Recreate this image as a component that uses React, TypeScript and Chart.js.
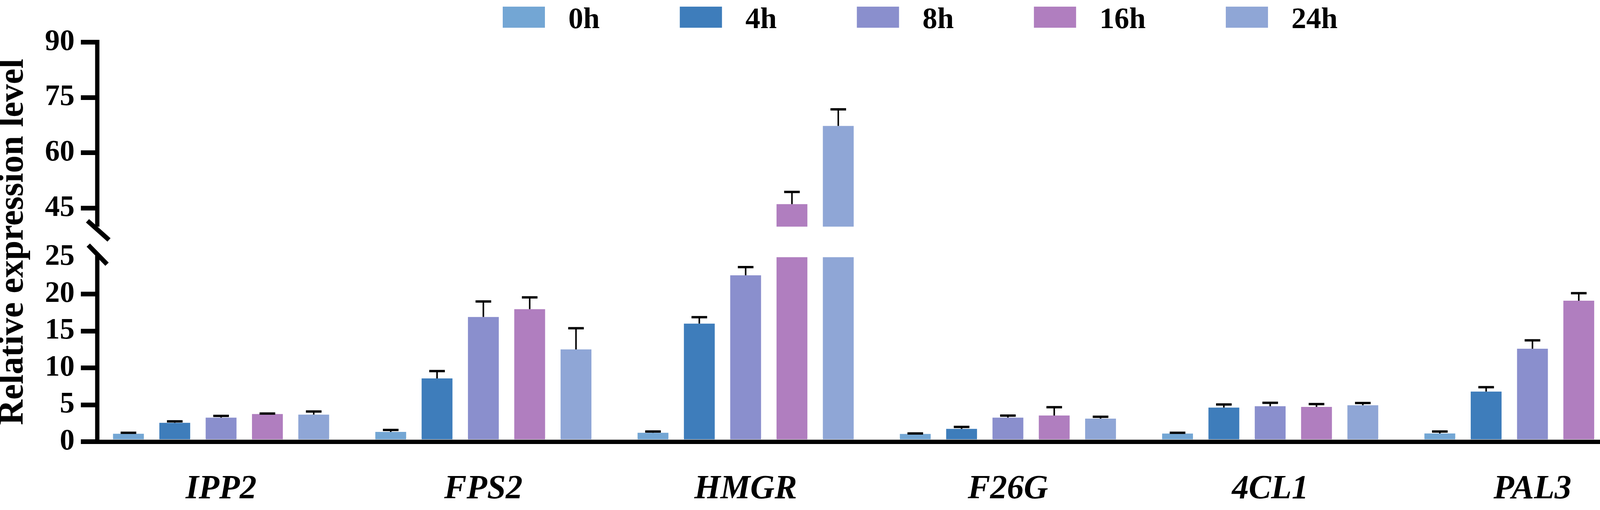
import React, { useEffect, useRef } from "react";
import { Chart, registerables } from "chart.js";

Chart.register(...registerables);

// ---------- data ----------
const GENES = ["IPP2", "FPS2", "HMGR", "F26G", "4CL1", "PAL3", "CHS"];
const SERIES = ["0h", "4h", "8h", "16h", "24h"];
const COLORS = ["#73a6d4", "#3e7dbb", "#8a8fcd", "#b07ebf", "#8fa6d6"];

const MEAN_0H = [1.07, 1.32, 1.2, 1.04, 1.1, 1.11, 1.02];
const MEAN_4H = [2.56, 8.57, 16.0, 1.73, 4.62, 6.79, 3.08];
const MEAN_8H = [3.26, 16.9, 22.55, 3.26, 4.8, 12.6, 2.7];
const MEAN_16H = [3.74, 17.96, 46.1, 3.54, 4.71, 19.1, 3.19];
const MEAN_24H = [3.67, 12.5, 67.3, 3.12, 4.94, 11.43, 3.07];

const SD_0H = [0.13, 0.27, 0.18, 0.07, 0.1, 0.27, 0.13];
const SD_4H = [0.19, 1.0, 0.87, 0.27, 0.42, 0.59, 0.17];
const SD_8H = [0.23, 2.1, 1.1, 0.27, 0.47, 1.13, 0.35];
const SD_16H = [0.07, 1.6, 3.3, 1.13, 0.39, 1.02, 0.21];
const SD_24H = [0.42, 2.87, 4.5, 0.25, 0.3, 1.5, 0.28];

const Y_TICKS = [0, 5, 10, 15, 20, 25, 45, 60, 75, 90];

// ---------- broken axis mapping ----------
const LOWER_TOP = 25;
const UPPER_BOTTOM = 40;
const UPPER_TOP = 90;
const GAP = 4.14;
const UPPER_RATIO = 0.5;
const T = (v: number) =>
  v <= LOWER_TOP ? v : LOWER_TOP + GAP + (Math.max(v, UPPER_BOTTOM) - UPPER_BOTTOM) * UPPER_RATIO;

const MEANS = [MEAN_0H, MEAN_4H, MEAN_8H, MEAN_16H, MEAN_24H];
const SDS = [SD_0H, SD_4H, SD_8H, SD_16H, SD_24H];

const FONT = "'Liberation Serif', 'Times New Roman', serif";

const W = 4921;
const H = 1306;

const breakPlugin = {
  id: "breakAndErrors",
  afterDatasetsDraw(chart: any) {
    const { ctx, chartArea, scales } = chart;
    const y = scales.y;
    const yLow = y.getPixelForValue(LOWER_TOP);
    const yHigh = y.getPixelForValue(T(UPPER_BOTTOM));
    ctx.save();
    ctx.fillStyle = "#ffffff";
    ctx.fillRect(chartArea.left + 6, yHigh, chartArea.right - chartArea.left, yLow - yHigh);
    // error bars
    ctx.strokeStyle = "#000";
    ctx.lineCap = "butt";
    SERIES.forEach((_, k) => {
      const meta = chart.getDatasetMeta(k);
      meta.data.forEach((el: any, i: number) => {
        const top = y.getPixelForValue(T(MEANS[k][i] + SDS[k][i]));
        const base = el.y;
        ctx.lineWidth = 4;
        ctx.beginPath();
        ctx.moveTo(el.x, base);
        ctx.lineTo(el.x, top);
        ctx.stroke();
        ctx.lineWidth = 6;
        ctx.beginPath();
        ctx.moveTo(el.x - 20, top);
        ctx.lineTo(el.x + 20, top);
        ctx.stroke();
      });
    });
    ctx.restore();
  },
  afterDraw(chart: any) {
    const { ctx, chartArea, scales } = chart;
    const y = scales.y;
    const x0 = chartArea.left;
    const y0 = y.getPixelForValue(0);
    const yLow = y.getPixelForValue(LOWER_TOP);
    const yHigh = y.getPixelForValue(T(UPPER_BOTTOM));
    const yTop = y.getPixelForValue(T(UPPER_TOP));
    ctx.save();
    ctx.strokeStyle = "#000";
    ctx.lineWidth = 11;
    ctx.lineCap = "butt";
    ctx.beginPath();
    ctx.moveTo(x0, y0 + 5.5);
    ctx.lineTo(x0, yLow - 4);
    ctx.moveTo(x0, yHigh);
    ctx.lineTo(x0, yTop - 6);
    ctx.stroke();
    // break marks
    ctx.lineWidth = 12;
    ctx.beginPath();
    ctx.moveTo(x0 - 25, yHigh - 15);
    ctx.lineTo(x0 + 30, yHigh + 34);
    ctx.moveTo(x0 - 23, yLow - 31);
    ctx.lineTo(x0 + 25, yLow + 18);
    ctx.stroke();

    // legend
    ctx.font = `bold 76px ${FONT}`;
    ctx.textBaseline = "alphabetic";
    ctx.textAlign = "left";
    let lx = 1287;
    SERIES.forEach((name, k) => {
      ctx.fillStyle = COLORS[k];
      ctx.fillRect(lx, 17, 108, 54);
      lx += 108 + 60;
      ctx.fillStyle = "#000";
      ctx.fillText(name, lx, 72);
      lx += ctx.measureText(name).width + 205;
    });
    ctx.restore();
  },
};

export default function App() {
  const ref = useRef<HTMLCanvasElement | null>(null);

  useEffect(() => {
    if (!ref.current) return;
    const datasets = SERIES.map((name, k) => ({
      label: name,
      data: GENES.map((_, i) => ({ x: i, y: T(MEANS[k][i]) })),
      backgroundColor: COLORS[k],
      borderWidth: 0,
      categoryPercentage: 0.883,
      barPercentage: 0.666,
    }));

    const chart = new Chart(ref.current, {
      type: "bar",
      data: { datasets } as any,
      plugins: [breakPlugin],
      options: {
        animation: false,
        responsive: false,
        devicePixelRatio: 1,
        events: [],
        layout: { padding: { top: 108, right: 6, bottom: 0, left: 0 } },
        plugins: {
          legend: { display: false },
          tooltip: { enabled: false },
        },
        scales: {
          x: {
            type: "linear",
            min: -0.4721,
            max: 6.4773,
            offset: false,
            z: 1,
            border: { display: true, width: 11, color: "#000" },
            grid: { display: false, drawTicks: false, offset: false },
            ticks: {
              padding: 71,
              autoSkip: false,
              maxRotation: 0,
              color: "#000",
              font: { family: FONT, size: 86, weight: "bold", style: "italic" },
              callback: (_v: any, i: number) => GENES[i],
            },
            afterBuildTicks: (s: any) => {
              s.ticks = GENES.map((_, i) => ({ value: i }));
            },
            afterFit: (s: any) => {
              s.height = 175;
            },
          },
          y: {
            type: "linear",
            min: 0,
            max: T(UPPER_TOP),
            z: 1,
            border: { display: false },
            grid: {
              display: true,
              drawOnChartArea: false,
              drawTicks: true,
              tickLength: 42,
              lineWidth: 12,
              tickWidth: 12,
              color: "#000",
              tickColor: (c: any) => (Y_TICKS[c.index] === LOWER_TOP ? "rgba(0,0,0,0)" : "#000"),
            },
            ticks: {
              padding: 16,
              autoSkip: false,
              color: "#000",
              font: { family: FONT, size: 76, weight: "bold" },
              callback: (_v: any, i: number) => String(Y_TICKS[i]),
            },
            afterBuildTicks: (s: any) => {
              s.ticks = Y_TICKS.map((v) => ({ value: T(v) }));
            },
            afterFit: (s: any) => {
              s.width = 249;
            },
            title: {
              display: true,
              text: "Relative expression level",
              color: "#000",
              padding: 0,
              font: { family: FONT, size: 90, weight: "bold", lineHeight: 0.78 },
            },
          },
        },
      } as any,
    });
    return () => chart.destroy();
  }, []);

  return (
    <div
      style={{
        position: "fixed",
        left: 0,
        top: 0,
        width: W,
        height: H,
        overflow: "hidden",
        background: "#fff",
      }}
    >
      <canvas ref={ref} width={W} height={H} style={{ display: "block", width: W, height: H }} />
    </div>
  );
}
